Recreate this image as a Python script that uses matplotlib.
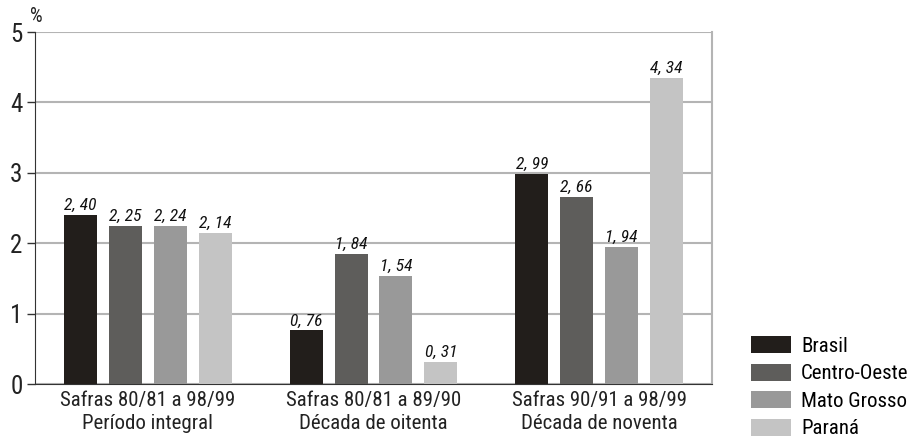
import matplotlib.pyplot as plt
import numpy as np

plt.rcParams['font.family'] = ['Roboto Condensed', 'DejaVu Sans']

grupos = ["Safras 80/81 a 98/99\nPeríodo integral",
          "Safras 80/81 a 89/90\nDécada de oitenta",
          "Safras 90/91 a 98/99\nDécada de noventa"]
series = ["Brasil", "Centro-Oeste", "Mato Grosso", "Paraná"]
brasil = [2.40, 0.76, 2.99]
centro_oeste = [2.25, 1.84, 2.66]
mato_grosso = [2.24, 1.54, 1.94]
parana = [2.14, 0.31, 4.34]
cores = ["#221e1b", "#5e5d5b", "#999999", "#c4c4c4"]

fig = plt.figure(figsize=(9.09, 4.38), dpi=100)
ax = fig.add_axes([35 / 909, 54 / 438, 677 / 909, 352 / 438])

x = np.arange(len(grupos))
largura = 0.146
passo = 0.199
for i, (nome, valores, cor) in enumerate(zip(series, [brasil, centro_oeste, mato_grosso, parana], cores)):
    pos = x + (i - 1.5) * passo
    ax.bar(pos, valores, width=largura, color=cor, label=nome, zorder=3)
    for px, v in zip(pos, valores):
        ax.text(px, v + 0.03, f"{v:.2f}".replace(".", ", "), ha="center", va="bottom",
                fontsize=12.5, style="italic", color="#111111", zorder=4)

ax.set_xlim(-0.5, 2.5)
ax.set_ylim(0, 5)
ax.set_yticks([0, 1, 2, 3, 4, 5])
ax.set_xticks(x)
ax.set_xticklabels(grupos, fontsize=15, color="#222222", linespacing=1.25)
ax.tick_params(axis="x", length=0, pad=5)
ax.tick_params(axis="y", labelsize=18, length=6, width=1, color="#333333", pad=3, labelcolor="#222222")
ax.yaxis.grid(True, color="#b4b4b4", linewidth=1.5, zorder=0)

ax.spines["left"].set_color("#333333")
ax.spines["bottom"].set_color("#333333")
ax.spines["top"].set_visible(False)
ax.spines["right"].set_color("#b4b4b4")
ax.spines["right"].set_linewidth(1.5)

fig.text(30 / 909, 1 - 17 / 438, "%", fontsize=14.5, color="#222222", va="center")

ax.legend(loc="upper left", bbox_to_anchor=(751 / 909, 1 - 336 / 438),
          bbox_transform=fig.transFigure, frameon=False, fontsize=15,
          handlelength=1.9, handleheight=0.9, handletextpad=0.5, labelspacing=0.37,
          borderaxespad=0, borderpad=0)

fig.savefig("out.png", dpi=100)
